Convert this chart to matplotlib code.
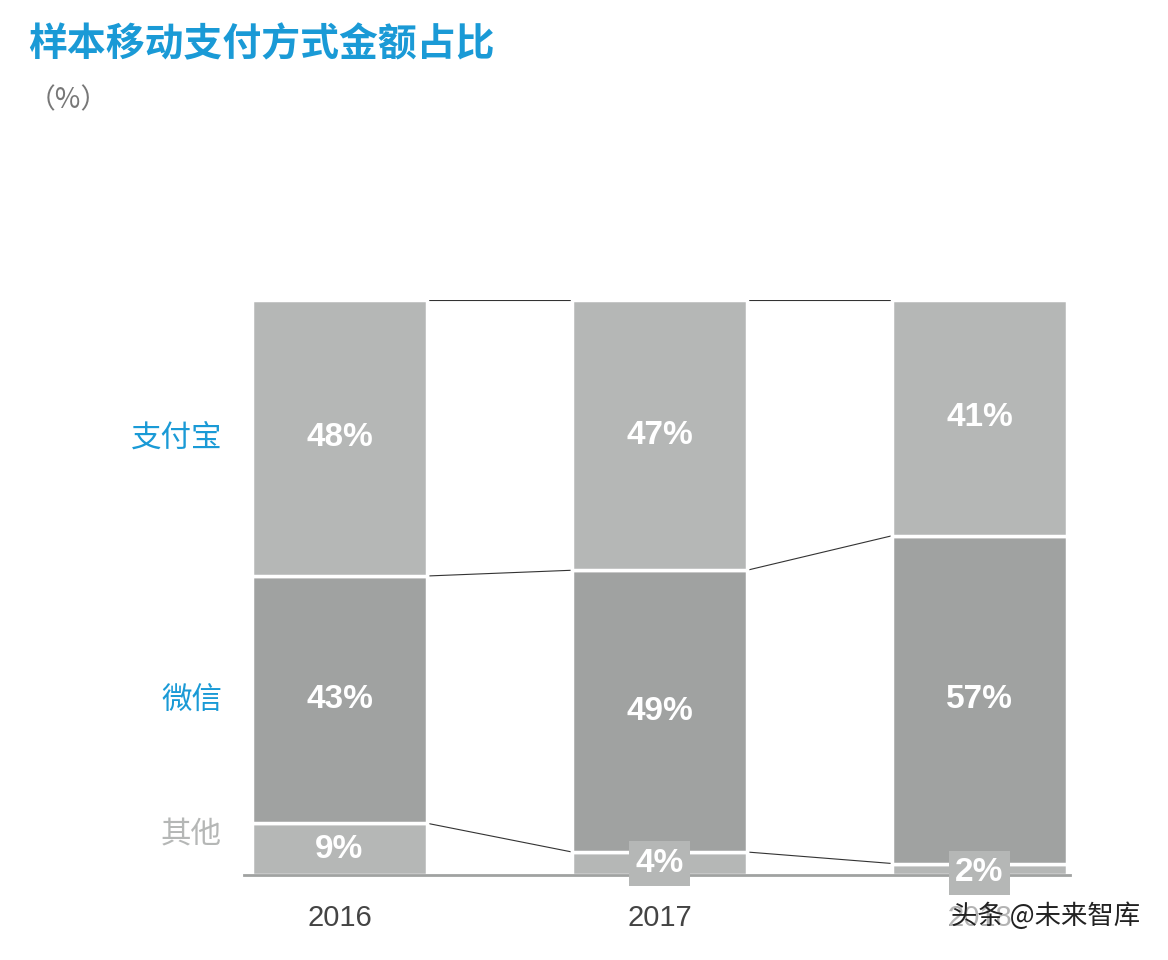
import matplotlib.pyplot as plt
import numpy as np

plt.rcParams['font.family'] = ['Noto Sans CJK SC', 'DejaVu Sans']
num_font = ['Liberation Sans', 'DejaVu Sans']

years = ['2016', '2017', '2018']
series = ['其他', '微信', '支付宝']
other = [9, 4, 2]
wechat = [43, 49, 57]
alipay = [48, 47, 41]

colors = ['#b5b7b6', '#a0a2a1', '#b5b7b6']
blue = '#1a9ad6'

fig = plt.figure(figsize=(11.68, 9.6), dpi=100)
ax = fig.add_axes([244 / 1168, 1 - 875 / 960, 826 / 1168, 575 / 960])
ax.set_xlim(-95.5 / 320, (1070 - 339.5) / 320)
ax.set_ylim(0, 100)
ax.axis('off')

x = np.arange(len(years))
w = 175 / 320
data = np.array([other, wechat, alipay])
bottoms = np.vstack([np.zeros(len(years)), np.cumsum(data, axis=0)[:-1]])

for k in range(3):
    ax.bar(x, data[k], w, bottom=bottoms[k], color=colors[k], edgecolor='white', linewidth=2.5, zorder=2)
    for i in range(len(years)):
        v = data[k][i]
        if v < 5:
            ax.text(x[i], 2.0 - 1.6 * (i - 1), f'{v}%', ha='center', va='center', color='white',
                    fontsize=24, fontweight='bold', zorder=4, family=num_font,
                    bbox=dict(boxstyle='square,pad=0.2', fc=colors[0], ec='none'))
        else:
            ax.text(x[i], bottoms[k][i] + v / 2, f'{v}%', ha='center', va='center', color='white',
                    fontsize=24, fontweight='bold', zorder=4, family=num_font)

# connector lines between bars
tops = np.cumsum(data, axis=0)
for i in range(len(years) - 1):
    for lvl in tops:
        ax.plot([x[i] + w / 2, x[i + 1] - w / 2], [lvl[i], lvl[i + 1]], color='#333333', lw=0.8, zorder=1)

ax.plot([-95.5 / 320, (1070 - 339.5) / 320], [0, 0], color='#a0a2a1', lw=2, clip_on=False, zorder=3)

for i, y in enumerate(years):
    ax.text(x[i], -7.5, y, ha='center', va='center', fontsize=21, color='#444444', family=num_font)

fig.text(28 / 1168, 1 - 45 / 960, '样本移动支付方式金额占比', fontsize=28, fontweight='bold', color=blue, va='center')
fig.text(28 / 1168, 1 - 100 / 960, '（%）', fontsize=20, color='#777777', va='center')

fig.text(222 / 1168, 1 - 438 / 960, series[2], fontsize=22, color=blue, ha='right', va='center')
fig.text(222 / 1168, 1 - 700 / 960, series[1], fontsize=22, color=blue, ha='right', va='center')
fig.text(222 / 1168, 1 - 835 / 960, series[0], fontsize=22, color='#b5b7b6', ha='right', va='center')

fig.text(1140 / 1168, 1 - 916 / 960, '头条 @未来智库', fontsize=19, color='#222222', ha='right', va='center',
         bbox=dict(boxstyle='square,pad=0.05', fc='white', ec='none', alpha=0.6))

fig.savefig('out.png', dpi=100, facecolor='white')
